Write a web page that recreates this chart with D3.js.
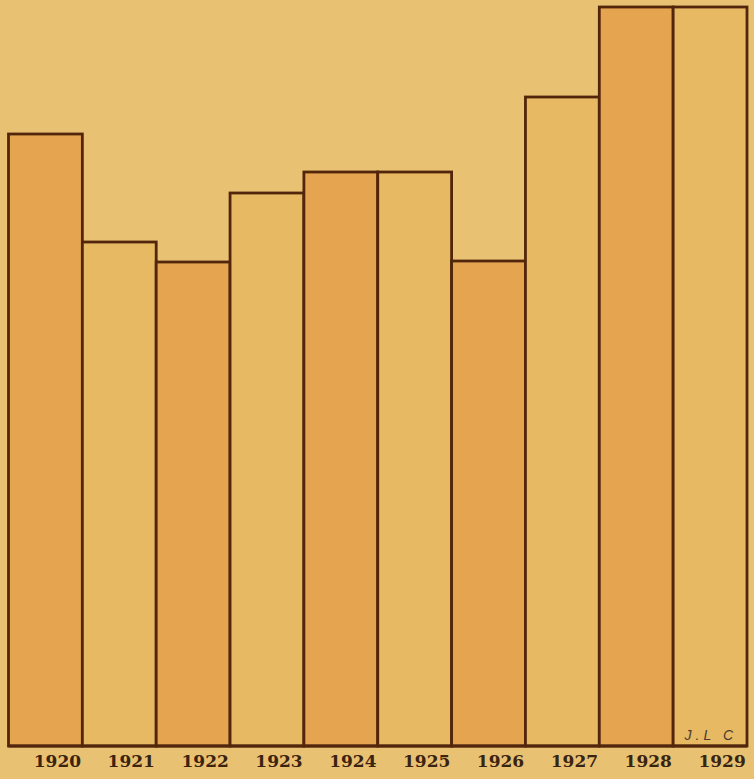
<!DOCTYPE html>
<html>
<head>
<meta charset="utf-8">
<script src="https://cdn.jsdelivr.net/npm/d3@7"></script>
<style>
  html, body { margin: 0; padding: 0; background: #e9c172; }
  svg { display: block; }
</style>
</head>
<body>
<svg id="chart" width="754" height="779"></svg>
<script>
// Data (relative heights; no scale is printed)
const years = ["1920","1921","1922","1923","1924","1925","1926","1927","1928","1929"];
const values = [612, 504, 484, 553, 574, 574, 485, 649, 739, 739];
const shades = ["dark","light","dark","light","dark","light","dark","light","dark","light"];
const signature = "J.L C";

const W = 754, H = 779;
const plotLeft = 8.5, plotRight = 747, baseline = 746, plotTop = 7;

const svg = d3.select("#chart");

svg.append("rect").attr("x", 0).attr("y", 0).attr("width", W).attr("height", H).attr("fill", "#e9c172");

const x = d3.scaleBand().domain(years).range([plotLeft, plotRight]).padding(0);
const y = d3.scaleLinear().domain([0, d3.max(values)]).range([baseline, plotTop]);

const fill = { dark: "#e5a44f", light: "#e7b963" };

const data = years.map((yr, i) => ({ year: yr, value: values[i], shade: shades[i] }));

svg.append("g").selectAll("rect")
  .data(data)
  .join("rect")
  .attr("x", d => x(d.year))
  .attr("y", d => y(d.value))
  .attr("width", x.bandwidth())
  .attr("height", d => baseline - y(d.value))
  .attr("fill", d => fill[d.shade])
  .attr("stroke", "#52260c")
  .attr("stroke-width", 2.8)
  .attr("stroke-linejoin", "miter");

// baseline
svg.append("line")
  .attr("x1", plotLeft).attr("x2", plotRight)
  .attr("y1", baseline).attr("y2", baseline)
  .attr("stroke", "#52260c").attr("stroke-width", 2.8);

// year labels via axis
const axis = d3.axisBottom(x).tickSize(0).tickPadding(0);
const ag = svg.append("g")
  .attr("transform", `translate(12, ${baseline + 9})`)
  .call(axis);
ag.select(".domain").remove();
ag.selectAll("text")
  .attr("font-family", "'DejaVu Serif', serif")
  .attr("font-weight", "bold")
  .attr("font-size", 17)
  .attr("fill", "#3a2410")
  .attr("dy", "0.71em");

// signature
svg.append("text")
  .attr("x", x("1929") + x.bandwidth() - 10)
  .attr("y", 740)
  .attr("text-anchor", "end")
  .attr("font-family", "'Liberation Sans', Arial, sans-serif")
  .attr("font-style", "italic")
  .attr("font-size", 14)
  .attr("letter-spacing", "4")
  .attr("fill", "#4a3a30")
  .text(signature);
</script>
</body>
</html>
